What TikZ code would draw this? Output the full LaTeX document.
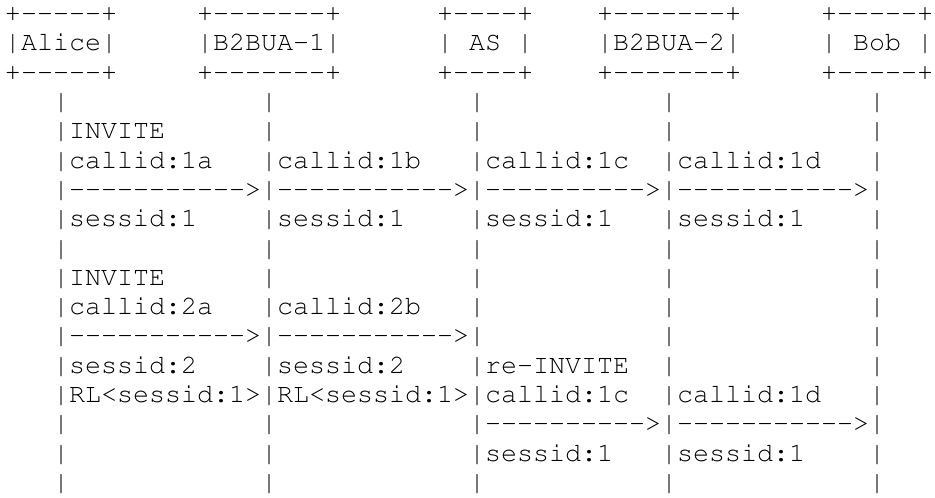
\documentclass[tikz,border=0pt]{standalone}
\usepackage[T1]{fontenc}
\usepackage{tikz}
\newcommand\blank[1]{\foreach\n in {1,...,#1}{~}}
\newcommand\dashes[1]{\foreach\n in {1,...,#1}{-}}
\tikzset{
  asciirow/.style={anchor=base west, inner sep=0pt, outer sep=0pt,
    font=\fontfamily{pcr}\fontsize{26.67}{29.3}\selectfont\frenchspacing}
}

\begin{document}
\begin{tikzpicture}[x=1pt, y=-1pt]
  \useasboundingbox (0,0) rectangle (935,498);

  % Header boxes
  \node[asciirow] (r1) at (5,21.6) {+\dashes{5}+\blank{5}+\dashes{7}+\blank{6}+\dashes{4}+\blank{4}+\dashes{7}+\blank{5}+\dashes{5}+};
  \node[asciirow] (r2) at (5,50.9) {|Alice|\blank{5}|B2BUA-1|\blank{6}|~AS~|\blank{4}|B2BUA-2|\blank{5}|~Bob~|};
  \node[asciirow] (r3) at (5,80.2) {+\dashes{5}+\blank{5}+\dashes{7}+\blank{6}+\dashes{4}+\blank{4}+\dashes{7}+\blank{5}+\dashes{5}+};

  % First INVITE
  \node[asciirow] (r4) at (5,109.5) {\blank{3}|\blank{12}|\blank{12}|\blank{11}|\blank{12}|};
  \node[asciirow] (r5) at (5,138.8) {\blank{3}|INVITE\blank{6}|\blank{12}|\blank{11}|\blank{12}|};
  \node[asciirow] (r6) at (5,168.1) {\blank{3}|callid:1a\blank{3}|callid:1b\blank{3}|callid:1c\blank{2}|callid:1d\blank{3}|};
  \node[asciirow] (r7) at (5,197.4) {\blank{3}|\dashes{11}>|\dashes{11}>|\dashes{10}>|\dashes{11}>|};
  \node[asciirow] (r8) at (5,226.7) {\blank{3}|sessid:1\blank{4}|sessid:1\blank{4}|sessid:1\blank{3}|sessid:1\blank{4}|};
  \node[asciirow] (r9) at (5,256.0) {\blank{3}|\blank{12}|\blank{12}|\blank{11}|\blank{12}|};

  % Second INVITE and re-INVITE
  \node[asciirow] (r10) at (5,285.3) {\blank{3}|INVITE\blank{6}|\blank{12}|\blank{11}|\blank{12}|};
  \node[asciirow] (r11) at (5,314.6) {\blank{3}|callid:2a\blank{3}|callid:2b\blank{3}|\blank{11}|\blank{12}|};
  \node[asciirow] (r12) at (5,343.9) {\blank{3}|\dashes{11}>|\dashes{11}>|\blank{11}|\blank{12}|};
  \node[asciirow] (r13) at (5,373.2) {\blank{3}|sessid:2\blank{4}|sessid:2\blank{4}|re-INVITE\blank{2}|\blank{12}|};
  \node[asciirow] (r14) at (5,402.5) {\blank{3}|RL<sessid:1>|RL<sessid:1>|callid:1c\blank{2}|callid:1d\blank{3}|};
  \node[asciirow] (r15) at (5,431.8) {\blank{3}|\blank{12}|\blank{12}|\dashes{10}>|\dashes{11}>|};
  \node[asciirow] (r16) at (5,461.1) {\blank{3}|\blank{12}|\blank{12}|sessid:1\blank{3}|sessid:1\blank{4}|};
  \node[asciirow] (r17) at (5,490.4) {\blank{3}|\blank{12}|\blank{12}|\blank{11}|\blank{12}|};
\end{tikzpicture}
\end{document}
